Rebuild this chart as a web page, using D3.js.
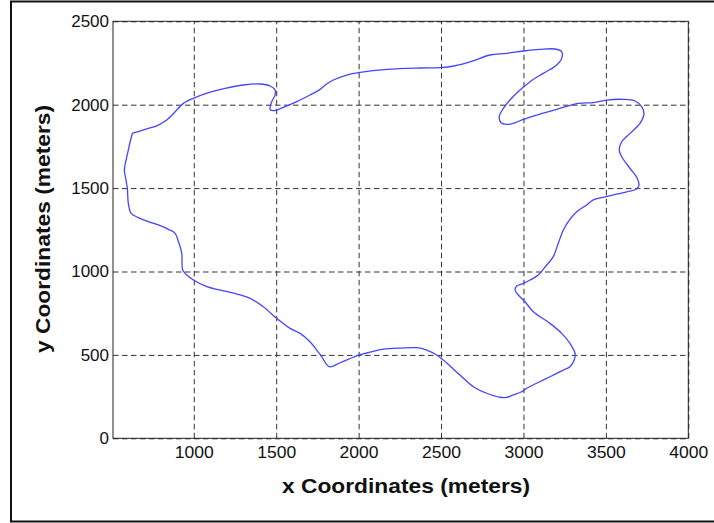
<!DOCTYPE html>
<html>
<head>
<meta charset="utf-8">
<script src="https://cdn.jsdelivr.net/npm/d3@7"></script>
<style>
  html, body { margin: 0; padding: 0; background: #fff; }
  svg { display: block; }
  text { font-family: Arial, "Liberation Sans", sans-serif; }
</style>
</head>
<body>
<svg id="chart" width="714" height="523"></svg>
<script>
// ---- data ----
const xTicks = [1000, 1500, 2000, 2500, 3000, 3500, 4000];
const yTicks = [0, 500, 1000, 1500, 2000, 2500];
const xLabel = "x Coordinates (meters)";
const yLabel = "y Coordinates (meters)";

const pathX = [628,705,785,836,887,937,1008,1089,1190,1301,1402,1463,1493,1493,1473,1463,1483,1543,1625,1705,1766,1806,1847,1928,2009,2174,2377,2498,2579,2680,2797,2898,2999,3100,3191,3232,3232,3202,3120,3040,2979,2918,2878,2853,2864,2898,2938,2999,3080,3202,3333,3424,3505,3606,3677,3717,3731,3707,3646,3596,3581,3596,3646,3687,3701,3683,3626,3545,3484,3424,3383,3323,3272,3242,3211,3181,3141,3090,3040,2999,2959,2949,2969,3009,3060,3161,3232,3282,3313,3308,3282,3242,3161,3080,3020,2989,2938,2898,2858,2777,2696,2615,2514,2474,2413,2352,2251,2150,2069,2009,1968,1887,1822,1776,1746,1705,1645,1584,1503,1422,1341,1261,1160,1079,998,958,933,927,907,887,846,785,725,664,620,603,597,589,579,594,603,614,628];
const pathY = [1829,1852,1878,1908,1958,2008,2042,2072,2098,2118,2124,2112,2088,2058,2018,1972,1964,1984,2018,2058,2092,2124,2148,2178,2194,2212,2220,2222,2232,2258,2298,2308,2322,2332,2334,2318,2278,2238,2188,2138,2088,2028,1978,1928,1892,1882,1888,1912,1938,1972,2008,2012,2028,2032,2022,1988,1948,1888,1828,1778,1728,1688,1619,1565,1518,1493,1478,1459,1445,1429,1399,1358,1299,1249,1169,1089,1039,979,949,929,913,889,859,819,759,689,629,569,509,469,429,409,369,330,300,279,260,246,246,270,309,379,469,499,529,543,541,534,516,501,486,453,429,489,529,579,629,659,719,789,839,865,889,909,949,979,1009,1109,1179,1229,1253,1279,1299,1323,1349,1409,1499,1548,1608,1688,1728,1778,1829];

// ---- layout ----
const svg = d3.select("#chart");
const plot = { left: 113, right: 688.3, top: 21.3, bottom: 438.3 };
const x = d3.scaleLinear().domain([510, 4000]).range([plot.left, plot.right]);
const y = d3.scaleLinear().domain([0, 2500]).range([plot.bottom, plot.top]);

// outer figure frame
svg.append("rect")
  .attr("x", 11).attr("y", 1.5)
  .attr("width", 720).attr("height", 520)
  .attr("fill", "none").attr("stroke", "#111").attr("stroke-width", 2);

// grid lines
const gx = svg.append("g")
  .attr("transform", `translate(0,${plot.bottom})`)
  .call(d3.axisBottom(x).tickValues(xTicks).tickSize(-(plot.bottom - plot.top)).tickFormat(""));
gx.select(".domain").remove();
gx.selectAll("line").attr("stroke", "#333").attr("stroke-dasharray", "5.5,3.5").attr("stroke-width", 1);

const gy = svg.append("g")
  .attr("transform", `translate(${plot.left},0)`)
  .call(d3.axisLeft(y).tickValues(yTicks).tickSize(-(plot.right - plot.left)).tickFormat(""));
gy.select(".domain").remove();
gy.selectAll("line").attr("stroke", "#333").attr("stroke-dasharray", "5.5,3.5").attr("stroke-width", 1);

// tick labels via axes
const ax = svg.append("g")
  .attr("transform", `translate(0,${plot.bottom})`)
  .call(d3.axisBottom(x).tickValues(xTicks).tickSize(0).tickPadding(8).tickFormat(d3.format("d")));
ax.select(".domain").remove();
ax.selectAll("text").attr("font-size", 17).attr("fill", "#111")
  .attr("font-family", "Arial, 'Liberation Sans', sans-serif")
  .attr("textLength", 39).attr("lengthAdjust", "spacingAndGlyphs");

const ay = svg.append("g")
  .attr("transform", `translate(${plot.left},0)`)
  .call(d3.axisLeft(y).tickValues(yTicks).tickSize(0).tickPadding(4).tickFormat(d3.format("d")));
ay.select(".domain").remove();
ay.selectAll("text").attr("font-size", 17).attr("fill", "#111")
  .attr("font-family", "Arial, 'Liberation Sans', sans-serif");

// plot box
svg.append("rect")
  .attr("x", plot.left).attr("y", plot.top)
  .attr("width", plot.right - plot.left).attr("height", plot.bottom - plot.top)
  .attr("fill", "none").attr("stroke", "#222").attr("stroke-width", 1);

// trajectory
const pts = pathX.map((d, i) => [d, pathY[i]]);
const line = d3.line().x(d => x(d[0])).y(d => y(d[1])).curve(d3.curveCatmullRom.alpha(0.5));
svg.append("path")
  .datum(pts)
  .attr("d", line)
  .attr("fill", "none")
  .attr("stroke", "#4545ff")
  .attr("stroke-width", 1.3);

// axis titles
svg.append("text")
  .attr("x", 406).attr("y", 493)
  .attr("text-anchor", "middle")
  .attr("font-size", 21).attr("font-weight", "bold").attr("fill", "#111")
  .attr("textLength", 248).attr("lengthAdjust", "spacingAndGlyphs")
  .text(xLabel);

svg.append("text")
  .attr("transform", "translate(50,229) rotate(-90)")
  .attr("text-anchor", "middle")
  .attr("font-size", 21).attr("font-weight", "bold").attr("fill", "#111")
  .attr("textLength", 248).attr("lengthAdjust", "spacingAndGlyphs")
  .text(yLabel);
</script>
</body>
</html>
